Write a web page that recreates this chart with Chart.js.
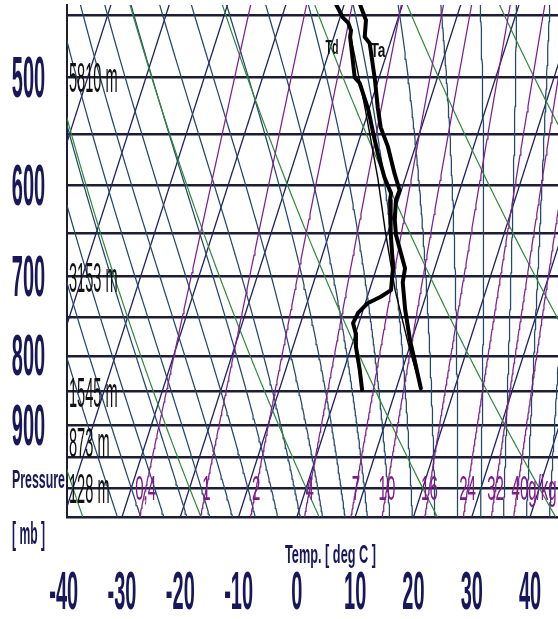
<!DOCTYPE html>
<html>
<head>
<meta charset="utf-8">
<script src="https://cdn.jsdelivr.net/npm/chart.js@4.4.1/dist/chart.umd.min.js"></script>
<style>
  html, body { margin: 0; padding: 0; background: #fff; overflow: hidden; }
  #wrap { position: relative; width: 558px; height: 619px; }
</style>
</head>
<body>
<div id="wrap"><canvas id="skewt"></canvas></div>
<script>
// ---- diagram values ----
const isobars = [450, 500, 550, 600, 650, 700, 750, 800, 850, 900, 950, 1000, 1050];
const pressureTicks = [500, 600, 700, 800, 900];
const tempTicks = [-40, -30, -20, -10, 0, 10, 20, 30, 40];
const isothermTemps = [-110, -100, -90, -80, -70, -60, -50, -40, -30, -20, -10, 0, 10, 20, 30, 40, 50];
const dryThetasC = [-80, -60, -40, -20, 0, 20, 40, 60, 80, 100, 120];
const moistTemps = [-34, -30, -26, -22, -18, -14, -10, -6, -2, 2, 6, 10, 14, 18, 22, 26, 30, 34, 38, 42];
const mixingRatios = [0.4, 1, 2, 4, 7, 10, 16, 24, 32, 40];
const mixingLabels = ['0,4', '1', '2', '4', '7', '10', '16', '24', '32', '40g/kg'];
const heightPressures = [500, 700, 850, 925, 1000];
const heightLabels = ['5810 m', '3153 m', '1545 m', '873 m', '128 m'];

// sounding: air temperature (Ta) and dew point (Td)
const taPressure = [442, 454, 467, 472, 502, 526, 544, 562, 588, 605, 615, 636, 652, 673, 690, 707, 740, 779, 806, 845];
const taTemp = [-17.3, -15.4, -14.7, -13.5, -10.6, -8.6, -7.0, -4.7, -2.1, -0.3, -0.4, 0.5, 1.5, 3.4, 4.9, 5.3, 7.2, 9.7, 11.6, 14.2];
const tdPressure = [442, 452, 456, 462, 467, 500, 505, 528, 549, 568, 592, 608, 615, 650, 689, 716, 724, 732, 744, 757, 770, 788, 819, 847];
const tdTemp = [-21.4, -19.5, -18.3, -17.4, -17.2, -14.2, -13.0, -10.1, -8.0, -6.1, -3.6, -1.6, -1.4, 0.5, 2.8, 3.7, 2.3, 0.4, -0.7, -1.0, 0.0, 0.8, 2.7, 4.2];
// lifted parcel curve
const parcelPressure = [465, 528, 594, 647, 716, 792, 845];
const parcelTemp = [-17.3, -10.6, -4.6, -0.6, 4.4, 10.2, 14.2];

// ---- skew-T geometry ----
const P_BOT = 1050, P_TOP = 442.5;
const SKEW = 32.5;            // deg C of skew per unit of ln(p)
const X_MIN = -39.44, X_MAX = 44.79;
const skewX = (t, p) => t + SKEW * Math.log(P_BOT / p);

// thermodynamics for the background lines
const RD = 287.04, CP = 1005.7, LV = 2.501e6, EPS = 0.622, KAPPA = RD / CP;
const satVap = tc => 6.112 * Math.exp(17.67 * tc / (tc + 243.5));
function moistLapse(tk, p) {
  const e = satVap(tk - 273.15);
  const rs = EPS * e / (p - e);
  return (RD * tk + LV * rs) / (CP + LV * LV * rs * EPS / (RD * tk * tk)) / p;
}
function pressureSteps() {
  const a = [];
  for (let p = P_BOT; p >= 430; p -= 5) a.push(p);
  return a;
}
function isothermPts(t) {
  return [{x: skewX(t, P_BOT), y: P_BOT}, {x: skewX(t, 430), y: 430}];
}
function dryPts(thetaC) {
  const theta = thetaC + 273.15;
  return pressureSteps().map(p => ({x: skewX(theta * Math.pow(p / 1000, KAPPA) - 273.15, p), y: p}));
}
function rk(tk, p, h) {
  const k1 = moistLapse(tk, p);
  const k2 = moistLapse(tk + h * k1 / 2, p + h / 2);
  return tk + h * k2;
}
function moistPts(t1000) {
  let tk = t1000 + 273.15;
  for (let p = 1000; p < P_BOT; p += 5) tk = rk(tk, p, 5);
  const pts = [];
  for (let p = P_BOT; p >= 430; p -= 5) {
    pts.push({x: skewX(tk - 273.15, p), y: p});
    tk = rk(tk, p, -5);
  }
  return pts;
}
function mixTemp(w, p) {
  const e = w * p / (622 + w);
  const l = Math.log(e / 6.112);
  return 243.5 * l / (17.67 - l);
}
function mixPts(w) {
  return pressureSteps().map(p => ({x: skewX(mixTemp(w, p), p), y: p}));
}
function soundingPts(ps, ts) {
  return ps.map((p, i) => ({x: skewX(ts[i], p), y: p}));
}

const bg = (data, color, width) => ({
  data, showLine: true, pointRadius: 0, borderColor: color, borderWidth: width,
  fill: false, tension: 0, order: 10
});
const profile = (data, width) => ({
  data, showLine: true, pointRadius: 0, borderColor: '#000', borderWidth: width,
  borderJoinStyle: 'round', borderCapStyle: 'round', tension: 0, order: 0
});

const datasets = [];
datasets.push(profile(soundingPts(taPressure, taTemp), 4));
datasets.push(profile(soundingPts(tdPressure, tdTemp), 4));
datasets.push(profile(soundingPts(parcelPressure, parcelTemp), 1.4));
mixingRatios.forEach(w => datasets.push(bg(mixPts(w), '#7e1f90', 1.25)));
dryThetasC.forEach(th => datasets.push(bg(dryPts(th), '#2f8a3a', 1.2)));
moistTemps.forEach(t => datasets.push(bg(moistPts(t), '#23486a', 1.25)));
isothermTemps.forEach(t => datasets.push(bg(isothermPts(t), '#1e2160', 1.3)));

// stretched label text
function drawFit(ctx, text, x, y, o) {
  const base = 20;
  ctx.save();
  ctx.font = (o.weight || 'normal') + ' ' + base + 'px "Liberation Sans", Arial, sans-serif';
  const m = ctx.measureText(text).width;
  const fx = o.w ? o.w / m : (o.sx || 1);
  const fy = o.cap / (0.716 * base);
  ctx.translate(x, y);
  ctx.scale(fx, fy);
  ctx.fillStyle = o.color;
  ctx.textAlign = o.align || 'center';
  ctx.textBaseline = 'alphabetic';
  ctx.fillText(text, 0, 0.716 * base / 2);
  ctx.restore();
}

const labelPlugin = {
  id: 'skewtLabels',
  afterDraw(chart) {
    const ctx = chart.ctx;
    const xs = chart.scales.x, ys = chart.scales.y;
    const navy = '#17175a';
    pressureTicks.forEach(p => drawFit(ctx, String(p), 28.5, ys.getPixelForValue(p) - 1,
      {cap: 41, sx: 1, weight: 'bold', color: navy}));
    tempTicks.forEach(t => drawFit(ctx, String(t), xs.getPixelForValue(t), 590,
      {cap: 38, sx: 1, weight: 'bold', color: navy}));
    drawFit(ctx, 'Pressure', 38.5, 479, {w: 53, cap: 18, weight: 'bold', color: navy});
    drawFit(ctx, '[ mb ]', 28.5, 533, {w: 33, cap: 22, weight: 'bold', color: navy});
    drawFit(ctx, 'Temp. [ deg C ]', 330.5, 554, {w: 91, cap: 18, weight: 'bold', color: navy});
    heightPressures.forEach((p, i) => drawFit(ctx, heightLabels[i], 69, ys.getPixelForValue(p),
      {sx: 0.73, cap: 30, color: '#111', align: 'left'}));
    mixingRatios.forEach((w, i) => {
      const px = xs.getPixelForValue(skewX(mixTemp(w, 1000), 1000));
      const txt = mixingLabels[i];
      const isLast = i === mixingRatios.length - 1;
      drawFit(ctx, txt, isLast ? px - 6 : px, ys.getPixelForValue(1000) - 1,
        {sx: 0.75, cap: 25, color: '#7d1a8c', align: isLast ? 'left' : 'center'});
    });
    drawFit(ctx, 'Td', 332, 46, {w: 13, cap: 15, weight: 'bold', color: '#111'});
    drawFit(ctx, 'Ta', 378, 49, {w: 15, cap: 15, weight: 'bold', color: '#111'});
  }
};

new Chart(document.getElementById('skewt'), {
  type: 'scatter',
  data: {datasets},
  options: {
    responsive: true,
    maintainAspectRatio: false,
    animation: false,
    events: [],
    layout: {padding: {left: 67, top: 5, right: 0, bottom: 102}},
    plugins: {legend: {display: false}, tooltip: {enabled: false}},
    scales: {
      x: {type: 'linear', min: X_MIN, max: X_MAX, display: false},
      y: {
        type: 'logarithmic', min: P_TOP, max: P_BOT, reverse: true,
        afterBuildTicks: ax => { ax.ticks = isobars.map(v => ({value: v})); },
        ticks: {display: false},
        grid: {drawTicks: false, color: '#1d1d33', lineWidth: 2.6},
        border: {display: true, color: '#1d1d33', width: 2}
      }
    }
  },
  plugins: [labelPlugin]
});
</script>
</body>
</html>
